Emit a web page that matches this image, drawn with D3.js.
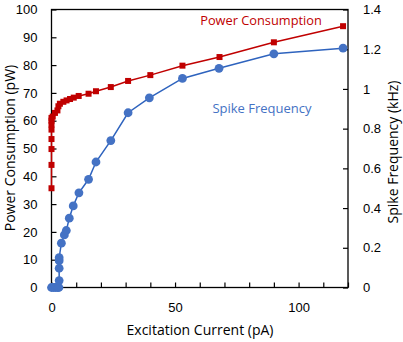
<!DOCTYPE html>
<html><head><meta charset="utf-8">
<script src="https://cdn.jsdelivr.net/npm/d3@7"></script>
<style>body{margin:0;background:#fff}svg{display:block}</style>
</head><body>
<svg id="c" width="403" height="342"></svg>
<script>
const powerCurrent = [0,0,0,0,0,0,0,0,0.5,1.4,2.4,2.8,3.4,4.8,6.1,7.5,9,11,15,18,24,31,40,53,68,90,118];
const powerValues  = [35.7,44.1,49.8,53.4,56.8,58.6,60,61,61.5,62.8,63.7,65.2,66.1,66.8,67.3,67.8,68.3,68.9,69.7,70.6,72.1,74.3,76.4,79.8,82.9,88.2,94.0];
const spikeCurrent = [0,0.8,1.6,2.4,3,3.1,3.1,3.1,3.1,4,5.2,6,7.2,8.8,11.1,15,18,24,31,39.6,53,67.8,90,118];
const spikeValues  = [0,0,0,0,0,0.035,0.097,0.135,0.15,0.223,0.265,0.287,0.349,0.411,0.477,0.545,0.632,0.74,0.88,0.955,1.053,1.104,1.177,1.205];
const xTicks = [0,50,100];
const leftTicks = [0,10,20,30,40,50,60,70,80,90,100];
const rightTicks = [0,0.2,0.4,0.6,0.8,1,1.2,1.4];

const svg = d3.select("#c");
const L=51.5, R=348, T=9.5, B=287.5;
const x = d3.scaleLinear().domain([0,120]).range([L,R]);
const yL = d3.scaleLinear().domain([0,100]).range([B,T]);
const yR = d3.scaleLinear().domain([0,1.4]).range([B,T]);
const tickFont = "Liberation Sans, Arial, sans-serif";
const titleFont = "Open Sans, sans-serif";

svg.append("rect").attr("x",L).attr("y",T).attr("width",R-L).attr("height",B-T)
  .attr("fill","none").attr("stroke","#000").attr("stroke-width",1.3);

const gx = svg.append("g").attr("transform",`translate(0,${B})`)
  .call(d3.axisBottom(x).tickValues(d3.range(0,121,10)).tickSize(-5).tickFormat(d=>xTicks.includes(d)?d:""));
gx.select(".domain").remove();
gx.selectAll(".tick line").attr("stroke","#000").attr("stroke-width",1.2);
gx.selectAll("text").attr("font-family",tickFont).attr("font-size",13).attr("fill","#000").attr("dy",null).attr("y",24);

const gl = svg.append("g").attr("transform",`translate(${L},0)`)
  .call(d3.axisLeft(yL).tickValues(leftTicks).tickSize(-5).tickFormat(d3.format("d")));
gl.select(".domain").remove();
gl.selectAll(".tick line").attr("stroke","#000").attr("stroke-width",1.2);
gl.selectAll("text").attr("font-family",tickFont).attr("font-size",13).attr("fill","#000").attr("x",-14);

const gr = svg.append("g").attr("transform",`translate(${R},0)`)
  .call(d3.axisRight(yR).tickValues(rightTicks).tickSize(-5).tickFormat(d=>String(+d.toFixed(1))));
gr.select(".domain").remove();
gr.selectAll(".tick line").attr("stroke","#000").attr("stroke-width",1.2);
gr.selectAll("text").attr("font-family",tickFont).attr("font-size",13).attr("fill","#000").attr("x",15);

const red="#C00000", blue="#4472C4", blueLine="#2E63BE";
const pData = powerCurrent.map((c,i)=>[c,powerValues[i]]);
const sData = spikeCurrent.map((c,i)=>[c,spikeValues[i]]);
svg.append("path").datum(sData).attr("fill","none").attr("stroke",blueLine).attr("stroke-width",1.5)
  .attr("d",d3.line().x(d=>x(d[0])).y(d=>yR(d[1])));
svg.selectAll("circle.s").data(sData).join("circle").attr("class","s")
  .attr("cx",d=>x(d[0])).attr("cy",d=>yR(d[1])).attr("r",4.4).attr("fill",blue);
svg.append("path").datum(pData).attr("fill","none").attr("stroke",red).attr("stroke-width",1.5)
  .attr("d",d3.line().x(d=>x(d[0])).y(d=>yL(d[1])));
svg.selectAll("rect.p").data(pData).join("rect").attr("class","p")
  .attr("x",d=>x(d[0])-3).attr("y",d=>yL(d[1])-3).attr("width",6).attr("height",6).attr("fill",red);

svg.append("text").attr("x",261).attr("y",25).attr("text-anchor","middle").attr("font-family",titleFont)
  .attr("font-size",12.8).attr("fill",red).text("Power Consumption");
svg.append("text").attr("x",262).attr("y",113).attr("text-anchor","middle").attr("font-family",titleFont)
  .attr("font-size",13).attr("fill",blue).text("Spike Frequency");
svg.append("text").attr("x",200).attr("y",335).attr("text-anchor","middle").attr("font-family",titleFont)
  .attr("font-size",14).attr("fill","#000").text("Excitation Current (pA)");
svg.append("text").attr("transform","translate(15,148) rotate(-90)").attr("text-anchor","middle").attr("font-family",titleFont)
  .attr("font-size",14).attr("fill","#000").text("Power Consumption (pW)");
svg.append("text").attr("transform","translate(398,152) rotate(-90)").attr("text-anchor","middle").attr("font-family",titleFont)
  .attr("font-size",14).attr("fill","#000").text("Spike Frequency (kHz)");
</script>
</body></html>
